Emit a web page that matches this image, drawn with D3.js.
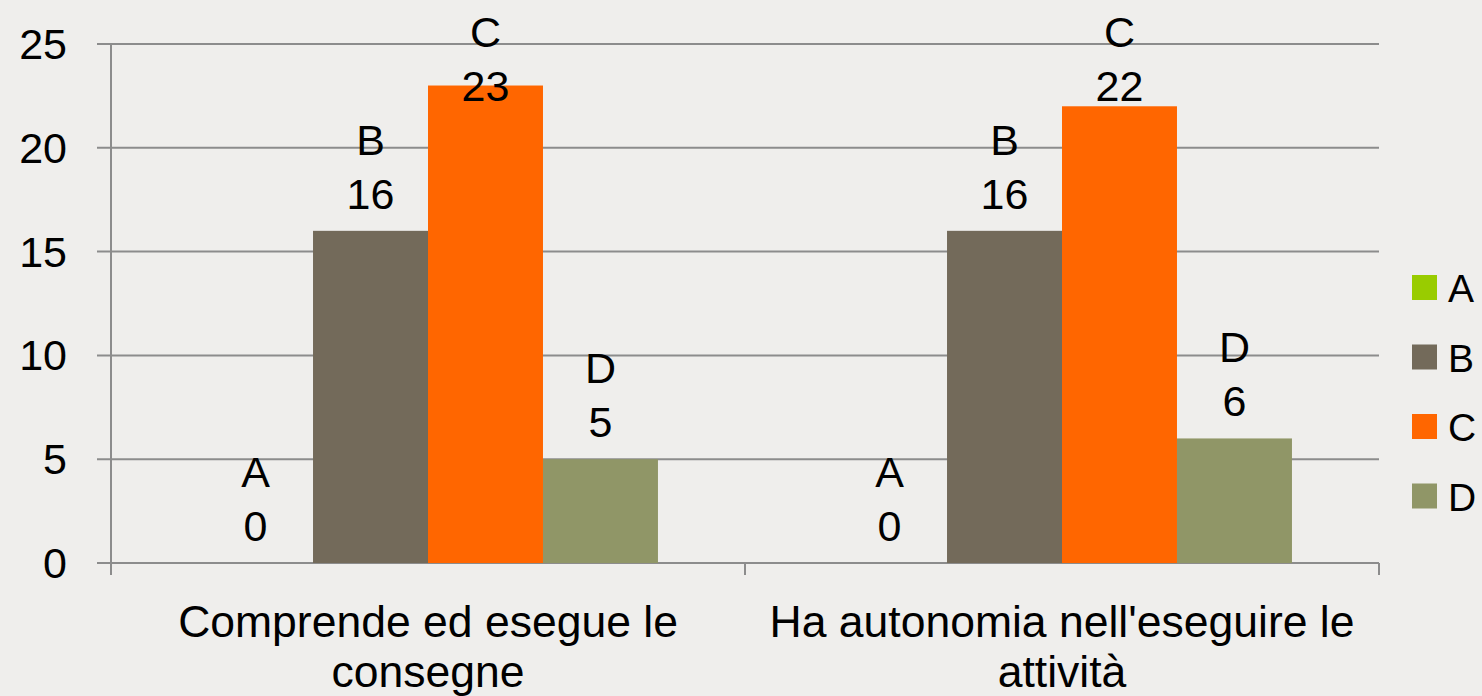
<!DOCTYPE html>
<html>
<head>
<meta charset="utf-8">
<script src="https://cdn.jsdelivr.net/npm/d3@7"></script>
<style>
  body { margin: 0; background: #efeeec; }
  svg text { font-family: "Liberation Sans", Arial, sans-serif; fill: #000; }
</style>
</head>
<body>
<div id="chart"></div>
<script>
// chart data
var categories = [["Comprende ed esegue le", "consegne"], ["Ha autonomia nell'eseguire le", "attività"]];
var seriesNames = ["A", "B", "C", "D"];
var seriesColors = ["#99cc00", "#736a5a", "#ff6600", "#909667"];
var valuesA = [0, 0];
var valuesB = [16, 16];
var valuesC = [23, 22];
var valuesD = [5, 6];
var yTicks = [0, 5, 10, 15, 20, 25];

var svgWidth = 1482;
var svgHeight = 696;
var margin = { top: 44, right: 103, bottom: 133, left: 111 };
var chartWidth = svgWidth - margin.left - margin.right;
var chartHeight = svgHeight - margin.top - margin.bottom;
var fontSize = 43;

var svg = d3.select("#chart")
  .append("svg")
  .attr("width", svgWidth)
  .attr("height", svgHeight);

var chartGroup = svg.append("g")
  .attr("transform", `translate(${margin.left}, ${margin.top})`);

var seriesValues = [valuesA, valuesB, valuesC, valuesD];
var data = [];
categories.forEach((c, ci) => {
  seriesNames.forEach((s, si) => {
    data.push({ cat: ci, series: s, si: si, value: seriesValues[si][ci] });
  });
});

var x0 = d3.scaleBand()
  .domain(d3.range(categories.length))
  .range([0, chartWidth]);

var x1 = d3.scaleBand()
  .domain(seriesNames)
  .range([0, x0.bandwidth()])
  .paddingOuter(0.757);

var yScale = d3.scaleLinear()
  .domain([0, 25])
  .range([chartHeight, 0]);

// gridlines
chartGroup.append("g")
  .selectAll("line")
  .data(yTicks)
  .enter()
  .append("line")
  .attr("x1", -14)
  .attr("x2", chartWidth)
  .attr("y1", d => yScale(d))
  .attr("y2", d => yScale(d))
  .attr("stroke", "#8c8c8c")
  .attr("stroke-width", 2);

// y axis line
chartGroup.append("line")
  .attr("x1", 0).attr("x2", 0)
  .attr("y1", 0).attr("y2", chartHeight + 12)
  .attr("stroke", "#8c8c8c")
  .attr("stroke-width", 2);

// x axis ticks
chartGroup.append("g")
  .selectAll("line")
  .data(d3.range(categories.length + 1))
  .enter()
  .append("line")
  .attr("x1", d => d * x0.bandwidth())
  .attr("x2", d => d * x0.bandwidth())
  .attr("y1", chartHeight)
  .attr("y2", chartHeight + 12)
  .attr("stroke", "#8c8c8c")
  .attr("stroke-width", 2);

// y tick labels
chartGroup.append("g")
  .selectAll("text")
  .data(yTicks)
  .enter()
  .append("text")
  .attr("x", -44)
  .attr("y", d => yScale(d) + 15)
  .attr("text-anchor", "end")
  .attr("font-size", fontSize)
  .text(d => d);

// bars
var bars = chartGroup.selectAll(".bar")
  .data(data)
  .enter()
  .append("rect")
  .attr("x", d => x0(d.cat) + x1(d.series))
  .attr("y", d => yScale(d.value))
  .attr("width", x1.bandwidth())
  .attr("height", d => chartHeight - yScale(d.value))
  .attr("fill", d => seriesColors[d.si]);

// data labels (series name + value), clamped to top
var labels = chartGroup.selectAll(".lbl")
  .data(data)
  .enter()
  .append("g")
  .attr("transform", d => {
    var yb = Math.max(yScale(d.value) - 22, 57);
    return `translate(${x0(d.cat) + x1(d.series) + x1.bandwidth() / 2}, ${yb})`;
  });
labels.append("text")
  .attr("y", -54)
  .attr("text-anchor", "middle")
  .attr("font-size", fontSize)
  .text(d => d.series);
labels.append("text")
  .attr("y", 0)
  .attr("text-anchor", "middle")
  .attr("font-size", fontSize)
  .text(d => d.value);

// category labels
var catLabels = chartGroup.selectAll(".cat")
  .data(categories)
  .enter()
  .append("text")
  .attr("text-anchor", "middle")
  .attr("font-size", 44.5)
  .attr("transform", (d, i) => `translate(${x0(i) + x0.bandwidth() / 2}, ${chartHeight + 74})`);
catLabels.selectAll("tspan")
  .data(d => d)
  .enter()
  .append("tspan")
  .attr("x", 0)
  .attr("dy", (d, i) => i === 0 ? 0 : 50)
  .text(d => d);

// legend
var legend = svg.append("g")
  .attr("transform", "translate(1412, 275)");
var legendItems = legend.selectAll("g")
  .data(seriesNames)
  .enter()
  .append("g")
  .attr("transform", (d, i) => `translate(0, ${i * 69.5})`);
legendItems.append("rect")
  .attr("width", 25)
  .attr("height", 25)
  .attr("fill", (d, i) => seriesColors[i]);
legendItems.append("text")
  .attr("x", 36)
  .attr("y", 27)
  .attr("font-size", 39)
  .text(d => d);
</script>
</body>
</html>
